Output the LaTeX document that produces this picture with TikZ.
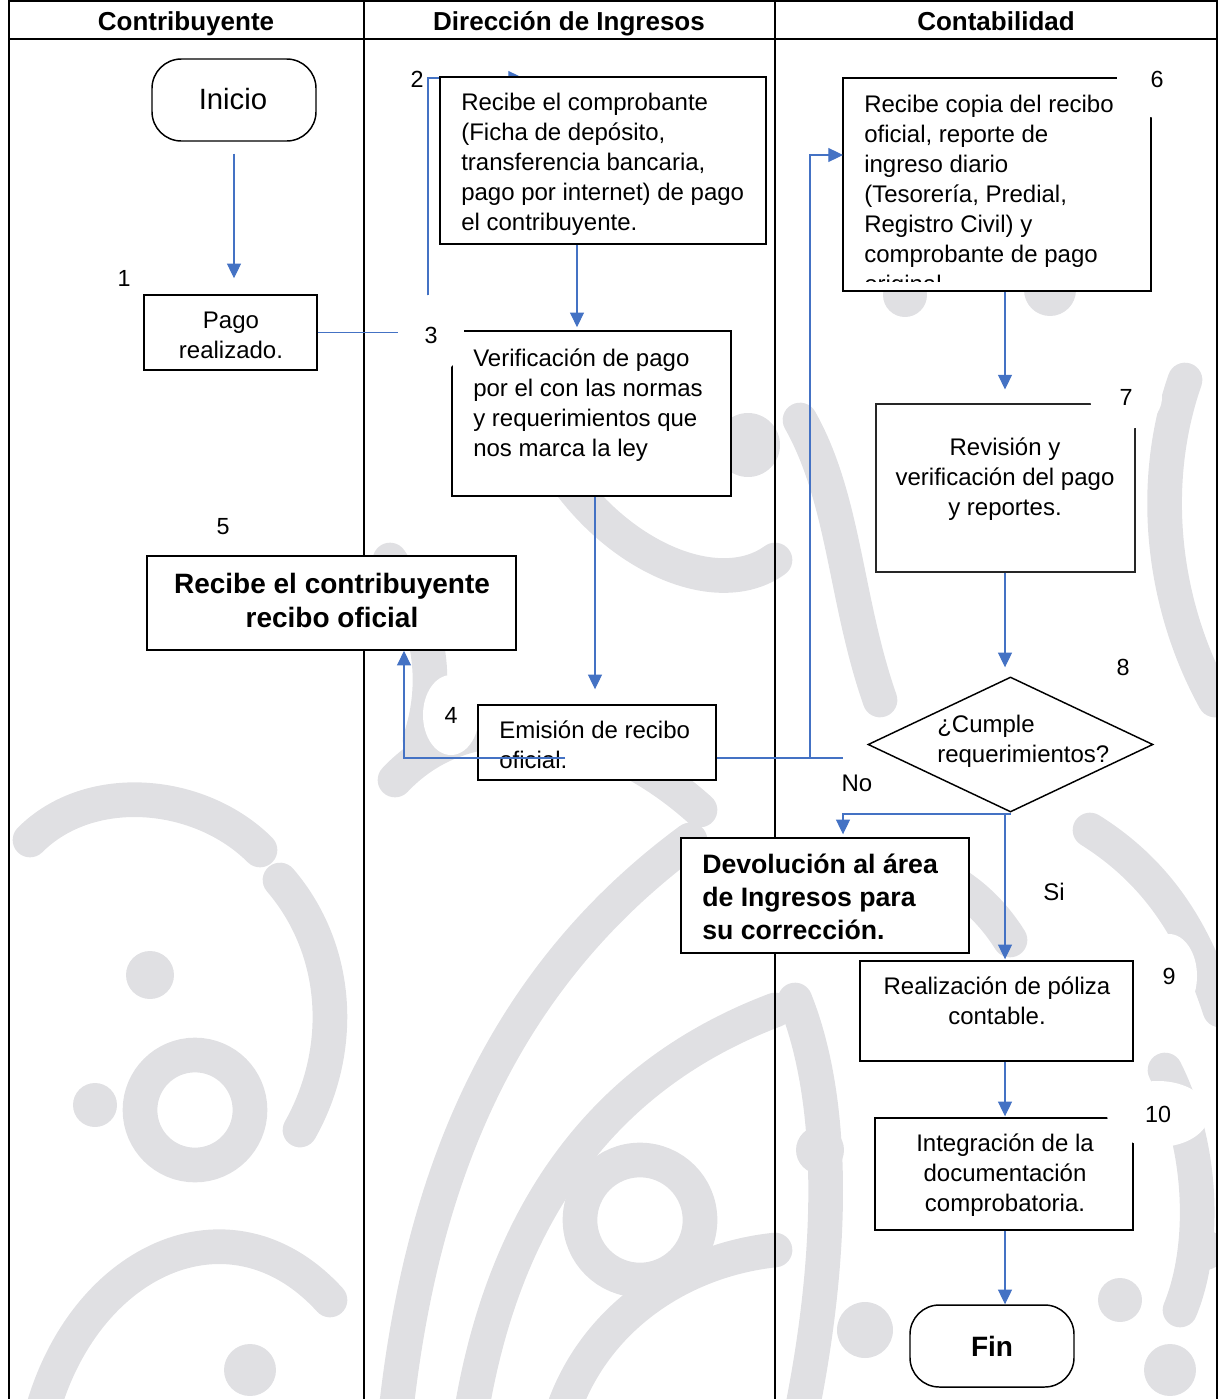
\documentclass[tikz,border=0pt]{standalone}
\usepackage{fontspec}
\setmainfont{Liberation Sans}
\usetikzlibrary{shapes.geometric,arrows.meta,fit,calc}
\definecolor{flowblue}{RGB}{68,114,196}
\definecolor{wmgrey}{RGB}{224,224,227}
\newcommand\fsBody{\fontsize{18pt}{22.5pt}\selectfont}
\newcommand\fsHead{\fontsize{19.5pt}{23pt}\selectfont\bfseries}
\newcommand\fsBold{\fontsize{20pt}{24.75pt}\selectfont\bfseries}
\newcommand\fsBig{\fontsize{21pt}{25.5pt}\selectfont\bfseries}
\newcommand\fsNum{\fontsize{17.5pt}{21pt}\selectfont}
\begin{document}
\begin{tikzpicture}[x=0.75pt,y=-0.75pt,
  lane/.style={line width=1.5pt,black},
  box/.style={draw=black,line width=1.1pt,fill=white,inner sep=0pt},
  term/.style={draw=black,line width=1.1pt,fill=white,rectangle,
    rounded corners=22pt,inner sep=0pt},
  % multi-line text nodes are anchored at the baseline of their last line
  txt/.style={inner sep=0pt,font=\fsBody,align=left,anchor=base west},
  ctxt/.style={inner sep=0pt,font=\fsBody,align=center,anchor=base},
  flow/.style={draw=flowblue,line width=0.8pt,-{Triangle[length=11pt,width=10.5pt]}},
  link/.style={draw=flowblue,line width=0.8pt},
  num/.style={ellipse,fill=white,inner sep=0pt,font=\fsNum},
  wm/.style={draw=wmgrey,line width=26pt,line cap=round},
  wmdot/.style={fill=wmgrey},
]
\useasboundingbox (0,0) rectangle (1218,1399);

% faint decorative background pattern
\begin{scope}
  \clip (9,40) rectangle (1217,1399);
  % centre lane
  \draw[wm] (395,1420) .. controls (420,1180) and (500,980) .. (690,840);
  \draw[wm] (470,1420) .. controls (500,1230) and (590,1080) .. (775,1010);
  \draw[wm] (560,1420) .. controls (590,1320) and (680,1260) .. (775,1250);
  \draw[wm] (640,1220) circle (60);
  \draw[wm] (395,780) .. controls (470,700) and (600,720) .. (700,810);
  \draw[wm] (560,470) .. controls (620,560) and (720,600) .. (775,560);
  \fill[wmdot] (748,445) circle (32);
  \draw[wm] (390,560) .. controls (430,620) and (440,680) .. (420,740);
  % left lane
  \draw[wm] (195,1110) circle (55);
  \fill[wmdot] (150,975) circle (24);
  \fill[wmdot] (95,1105) circle (22);
  \draw[wm] (40,1420) .. controls (80,1260) and (230,1190) .. (330,1300);
  \draw[wm] (280,880) .. controls (340,950) and (345,1050) .. (300,1130);
  \fill[wmdot] (250,1370) circle (26);
  \draw[wm] (30,840) .. controls (90,780) and (200,790) .. (260,850);
  % right lane
  \fill[wmdot] (905,295) circle (22);
  \fill[wmdot] (1050,290) circle (26);
  \draw[wm] (800,420) .. controls (845,500) and (845,600) .. (880,700);
  \draw[wm] (1185,380) .. controls (1150,480) and (1160,600) .. (1215,700);
  \draw[wm] (790,880) .. controls (870,840) and (960,860) .. (1010,940);
  \draw[wm] (1090,830) .. controls (1170,880) and (1200,950) .. (1220,1010);
  \draw[wm] (795,1000) .. controls (835,1100) and (835,1250) .. (800,1420);
  \draw[wm] (1165,1070) .. controls (1205,1150) and (1205,1250) .. (1180,1310);
  \fill[wmdot] (820,1150) circle (24);
  \fill[wmdot] (865,1330) circle (28);
  \fill[wmdot] (1120,1300) circle (22);
  \fill[wmdot] (1170,1370) circle (26);
  \fill[wmdot] (1205,1250) circle (20);
\end{scope}

% swimlane frame
\draw[lane] (9,1420) -- (9,1) -- (1217,1) -- (1217,1420);
\draw[lane] (9,39) -- (1217,39);
\draw[lane] (364,1) -- (364,1420);
\draw[lane] (775,1) -- (775,1420);
\node[font=\fsHead,anchor=base] (h1) at (186,30) {Contribuyente};
\node[font=\fsHead,anchor=base] (h2) at (569,30) {Dirección de Ingresos};
\node[font=\fsHead,anchor=base] (h3) at (996,30) {Contabilidad};

% column guides for the connectors
\coordinate (xa) at (577,0);
\coordinate (xb) at (595,0);
\coordinate (xc) at (404,0);
\coordinate (xd) at (843,0);
\coordinate (cx) at (1005,0);

\node[num,minimum width=42pt,minimum height=60pt] (n4) at (451,715) {4};

% Contribuyente
\node[term,fit={(152,59)(316,141)}] (inicio) {};
\node[font=\fontsize{22pt}{26pt}\selectfont,inner sep=0pt,anchor=base] (tinicio) at (233,109) {Inicio};
\node[box,fit={(144,295)(317,370)}] (pago) {};
\node[ctxt] (tpago) at (231,358) {Pago\\realizado.};

% payment goes up to the receipt step
\coordinate (in2) at (523,78);
\draw[flow] (pago.east) -- (428,332.5) -- (428,78) -- (in2);

% Dirección de Ingresos
\node[box,line width=1.2pt,fit={(440,77)(766,244)}] (b2) {};
\node[txt] (t2) at (461,230) {Recibe el comprobante\\(Ficha de depósito,\\transferencia bancaria,\\pago por internet) de pago\\el contribuyente.};
\node[box,line width=1.2pt,fit={(452,331)(731,496)}] (b3) {};
\node[txt] (t3) at (473,456) {Verificación de pago\\por el con las normas\\y requerimientos que\\nos marca la ley};
\node[box,fit={(478,705)(716,780)}] (e4) {};
\node[txt] (t4) at (499,768) {Emisión de recibo\\oficial.};
\node[box,line width=1.2pt,fit={(147,556)(516,650)}] (b5) {};
\node[ctxt,font=\fsBig] (t5) at (332,627) {Recibe el contribuyente\\recibo oficial};

% Contabilidad
\node[box,line width=1.2pt,fit={(843,78)(1151,291)}] (b6) {};
\begin{scope}
  \clip (845,80) rectangle (1149,281);
  \node[txt] (t6) at (864,292) {Recibe copia del recibo\\oficial, reporte de\\ingreso diario\\(Tesorería, Predial,\\Registro Civil) y\\comprobante de pago\\original.};
\end{scope}
\node[box,line width=0.8pt,draw=black!85,fit={(876,404)(1135,572)}] (b7) {};
\node[ctxt] (t7) at (1005,515) {Revisión y\\verificación del pago\\y reportes.};
\node[draw,line width=1.1pt,diamond,fill=white,inner sep=0pt,
  minimum width=213.75pt,minimum height=101.25pt] (dec) at (1010.5,744.5) {};
\node[txt] (tdec) at (937,762) {¿Cumple\\requerimientos?};
\node[box,fit={(681,838)(969,953)}] (bD) {};
\node[txt,font=\fsBold] (tD) at (702,939) {Devolución al área\\de Ingresos para\\su corrección.};
\node[box,fit={(860,961)(1133,1061)}] (b9) {};
\node[ctxt] (t9) at (997,1024) {Realización de póliza\\contable.};
\node[box,fit={(875,1118)(1133,1230)}] (b10) {};
\node[ctxt] (t10) at (1005,1211) {Integración de la\\documentación\\comprobatoria.};
\node[term,fit={(910,1305)(1074,1387)}] (fin) {};
\node[font=\fontsize{21pt}{25pt}\selectfont\bfseries,inner sep=0pt,anchor=base] (tfin) at (992,1356) {Fin};

% connectors
\draw[flow] ($(inicio.south)+(0,12)$) -- ($(pago.north -| inicio.south)+(0,-16)$);
\draw[flow] (b2.south -| xa) -- ($(b3.north -| xa)+(0,-3)$);
\draw[flow] (b3.south -| xb) -- ($(e4.north -| xb)+(0,-15)$);
\coordinate (s4) at (565,758);
\draw[flow] (s4) -| (b5.south -| xc);
\coordinate (j4) at (810,758);
\coordinate (stub) at (843,758);
\coordinate (in6) at (843,155);
\draw[link] (s4 -| e4.east) -- (stub);
\draw[flow] (j4) |- (in6);
\draw[flow] (b6.south -| cx) -- ($(b7.north -| cx)+(0,-14)$);
\draw[flow] (b7.south -| cx) -- ($(dec.north -| cx)+(0,-9)$);
\coordinate (j8) at (1005,814);
\draw[link] (dec.south) -- (dec.south |- j8) -- (j8);
\draw[flow] (j8) -- ($(b9.north -| cx)+(0,-1)$);
\draw[flow] (j8) -| ($(bD.north -| xd)+(0,-3)$);
\draw[flow] (b9.south -| cx) -- ($(b10.north -| cx)+(0,-1)$);
\draw[flow] (b10.south -| cx) -- (fin.north -| cx);

% step numbers
\node[num,minimum width=34pt,minimum height=36pt] (n1) at (124,278) {1};
\node[ellipse,inner sep=0pt,font=\fsNum] (n2) at (417,79) {2};
\node[num,minimum width=49.5pt,minimum height=60pt] (n3) at (431,335) {3};
\node[num,minimum width=37.5pt,minimum height=38pt] (n5) at (223,527) {5};
\node[num,minimum width=60pt,minimum height=58pt] (n6) at (1157,79) {6};
\node[num,minimum width=54pt,minimum height=48pt] (n7) at (1126,397) {7};
\node[num,minimum width=43.5pt,minimum height=60pt] (n8) at (1123,667) {8};
\node[num,minimum width=42pt,minimum height=63pt] (n9) at (1169,976) {9};
\node[num,minimum width=76.5pt,minimum height=49.5pt] (n10) at (1158,1114) {10};

\node[fill=white,minimum width=53.25pt,minimum height=30pt,inner sep=0pt,font=\fsBody] (no) at (857,783) {No};
\node[font=\fsBody,inner sep=0pt,anchor=base] (si) at (1054,900) {Si};
\end{tikzpicture}
\end{document}
